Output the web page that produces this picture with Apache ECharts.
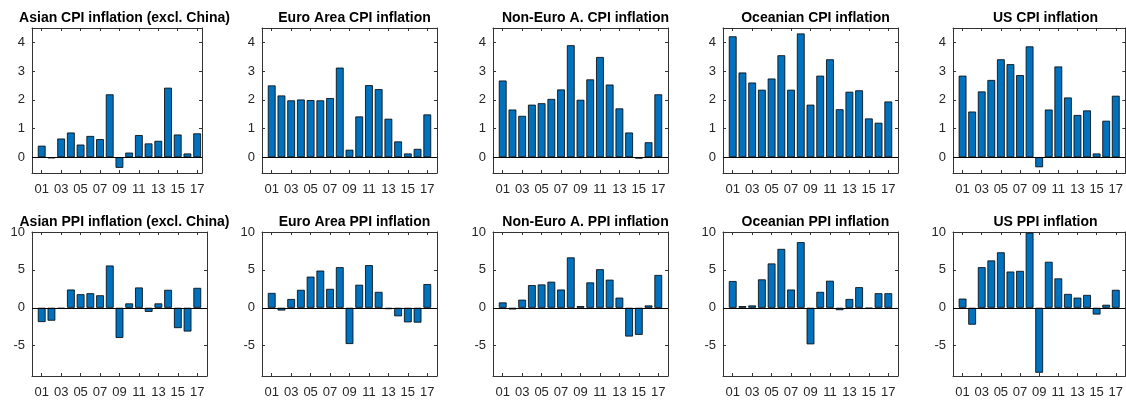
<!DOCTYPE html>
<html>
<head>
<meta charset="utf-8">
<script src="https://cdn.jsdelivr.net/npm/echarts@6/dist/echarts.min.js"></script>
<style>
  html, body { margin: 0; padding: 0; background: #fff; }
  #chart { width: 1126px; height: 401px; }
</style>
</head>
<body>
<div id="chart"></div>
<script>
// years 2001..2017, labels every other year
var years = ['01','02','03','04','05','06','07','08','09','10','11','12','13','14','15','16','17'];
var yearLabels = [1, 3, 5, 7, 9, 11, 13, 15, 17];

var cpiTicks = [0, 1, 2, 3, 4];
var ppiTicks = [-5, 0, 5, 10];

// CPI inflation (top row)
var asiaCpi    = [0.40, -0.04, 0.65, 0.86, 0.44, 0.74, 0.63, 2.19, -0.37, 0.16, 0.77, 0.48, 0.57, 2.42, 0.79, 0.13, 0.83];
var euroCpi    = [2.50, 2.15, 1.98, 2.01, 1.99, 1.98, 2.06, 3.12, 0.26, 1.42, 2.51, 2.37, 1.34, 0.55, 0.13, 0.29, 1.49];
var nonEuroCpi = [2.67, 1.66, 1.44, 1.83, 1.88, 2.03, 2.36, 3.90, 2.00, 2.71, 3.49, 2.53, 1.70, 0.86, -0.05, 0.52, 2.19];
var oceaniaCpi = [4.21, 2.95, 2.60, 2.35, 2.74, 3.55, 2.35, 4.31, 1.83, 2.84, 3.41, 1.67, 2.28, 2.33, 1.35, 1.20, 1.94];
var usCpi      = [2.84, 1.59, 2.29, 2.69, 3.41, 3.24, 2.86, 3.86, -0.35, 1.66, 3.16, 2.08, 1.47, 1.63, 0.13, 1.27, 2.14];

// PPI inflation (bottom row)
var asiaPpi    = [-1.88, -1.70, -0.13, 2.41, 1.79, 1.92, 1.65, 5.58, -3.97, 0.58, 2.68, -0.54, 0.58, 2.37, -2.68, -3.13, 2.63];
var euroPpi    = [1.96, -0.36, 1.16, 2.37, 4.11, 4.91, 2.50, 5.36, -4.78, 3.04, 5.63, 2.10, -0.18, -1.12, -1.92, -1.96, 3.13];
var nonEuroPpi = [0.71, -0.22, 1.07, 2.99, 3.08, 3.44, 2.41, 6.65, 0.22, 3.35, 5.09, 3.71, 1.34, -3.79, -3.57, 0.31, 4.33];
var oceaniaPpi = [3.53, 0.22, 0.31, 3.75, 5.85, 7.77, 2.41, 8.66, -4.82, 2.10, 3.57, -0.31, 1.16, 2.72, -0.09, 1.92, 1.92];
var usPpi      = [1.21, -2.23, 5.36, 6.25, 7.32, 4.78, 4.87, 9.91, -8.57, 6.07, 3.88, 1.83, 1.34, 1.70, -0.89, 0.40, 2.37];

var panels = [
  { title: 'Asian CPI inflation (excl. China)', data: asiaCpi,    row: 0, col: 0 },
  { title: 'Euro Area CPI inflation',           data: euroCpi,    row: 0, col: 1 },
  { title: 'Non-Euro A. CPI inflation',         data: nonEuroCpi, row: 0, col: 2 },
  { title: 'Oceanian CPI inflation',            data: oceaniaCpi, row: 0, col: 3 },
  { title: 'US CPI inflation',                  data: usCpi,      row: 0, col: 4 },
  { title: 'Asian PPI inflation (excl. China)', data: asiaPpi,    row: 1, col: 0 },
  { title: 'Euro Area PPI inflation',           data: euroPpi,    row: 1, col: 1 },
  { title: 'Non-Euro A. PPI inflation',         data: nonEuroPpi, row: 1, col: 2 },
  { title: 'Oceanian PPI inflation',            data: oceaniaPpi, row: 1, col: 3 },
  { title: 'US PPI inflation',                  data: usPpi,      row: 1, col: 4 }
];

var lefts = [32, 262, 493, 723, 953];
var rowTop = [28, 232];
var rowHeight = [145, 144];
var axisColor = '#333333';
var textColor = '#262626';
var font = '"Liberation Sans", Arial, Helvetica, sans-serif';

var chart = echarts.init(document.getElementById('chart'));

var titles = [], grids = [], xAxes = [], yAxes = [], series = [];

panels.forEach(function (p, i) {
  // top-left panel stops at 17.5 in the original
  var xMax = (p.row === 0 && p.col === 0) ? 17.5 : 18;
  var width = (p.row === 0 && p.col === 0) ? 170 : 175;
  var isCpi = p.row === 0;
  var yMin = isCpi ? -0.55 : -9;
  var yMax = isCpi ? 4.5 : 10;
  var yTicks = isCpi ? cpiTicks : ppiTicks;

  grids.push({ left: lefts[p.col], top: rowTop[p.row], width: width, height: rowHeight[p.row] });

  titles.push({
    text: p.title,
    left: lefts[p.col] + 175 / 2,
    top: p.row === 0 ? 6 : 210,
    textAlign: 'center',
    textStyle: { fontFamily: font, fontSize: 14, fontWeight: 'bold', color: '#000' }
  });

  var lineStyle = { color: axisColor, width: 1 };

  // bottom x axis with labels
  xAxes.push({
    type: 'value', gridIndex: i, position: 'bottom', min: 0, max: xMax,
    axisLine: { show: true, onZero: false, lineStyle: lineStyle },
    axisTick: { show: true, inside: true, length: 3, customValues: yearLabels, lineStyle: lineStyle },
    axisLabel: {
      show: true, margin: 10, customValues: yearLabels,
      fontFamily: font, fontSize: 13, color: textColor,
      formatter: function (v) { return years[v - 1]; }
    },
    splitLine: { show: false }
  });
  // top x axis (box + mirrored ticks)
  xAxes.push({
    type: 'value', gridIndex: i, position: 'top', min: 0, max: xMax,
    axisLine: { show: true, onZero: false, lineStyle: lineStyle },
    axisTick: { show: true, inside: true, length: 3, customValues: yearLabels, lineStyle: lineStyle },
    axisLabel: { show: false },
    splitLine: { show: false }
  });
  // left y axis with labels
  yAxes.push({
    type: 'value', gridIndex: i, position: 'left', min: yMin, max: yMax,
    axisLine: { show: true, onZero: false, lineStyle: lineStyle },
    axisTick: { show: true, inside: true, length: 3, customValues: yTicks, lineStyle: lineStyle },
    axisLabel: {
      show: true, margin: 7, customValues: yTicks,
      fontFamily: font, fontSize: 13, color: textColor
    },
    splitLine: { show: false }
  });
  // right y axis (box + mirrored ticks)
  yAxes.push({
    type: 'value', gridIndex: i, position: 'right', min: yMin, max: yMax,
    axisLine: { show: true, onZero: false, lineStyle: lineStyle },
    axisTick: { show: true, inside: true, length: 3, customValues: yTicks, lineStyle: lineStyle },
    axisLabel: { show: false },
    splitLine: { show: false }
  });

  series.push({
    type: 'bar',
    name: p.title,
    xAxisIndex: i * 2,
    yAxisIndex: i * 2,
    data: p.data.map(function (v, k) { return [k + 1, v]; }),
    barWidth: 0.8 * width / xMax,
    itemStyle: { color: '#0072BD', borderColor: '#000', borderWidth: 0.8 },
    silent: true,
    animation: false,
    markLine: {
      silent: true,
      symbol: 'none',
      label: { show: false },
      lineStyle: { color: '#000', width: 1, type: 'solid' },
      data: [{ yAxis: 0 }],
      animation: false
    }
  });
});

chart.setOption({
  animation: false,
  backgroundColor: '#ffffff',
  title: titles,
  grid: grids,
  xAxis: xAxes,
  yAxis: yAxes,
  series: series
});
</script>
</body>
</html>
